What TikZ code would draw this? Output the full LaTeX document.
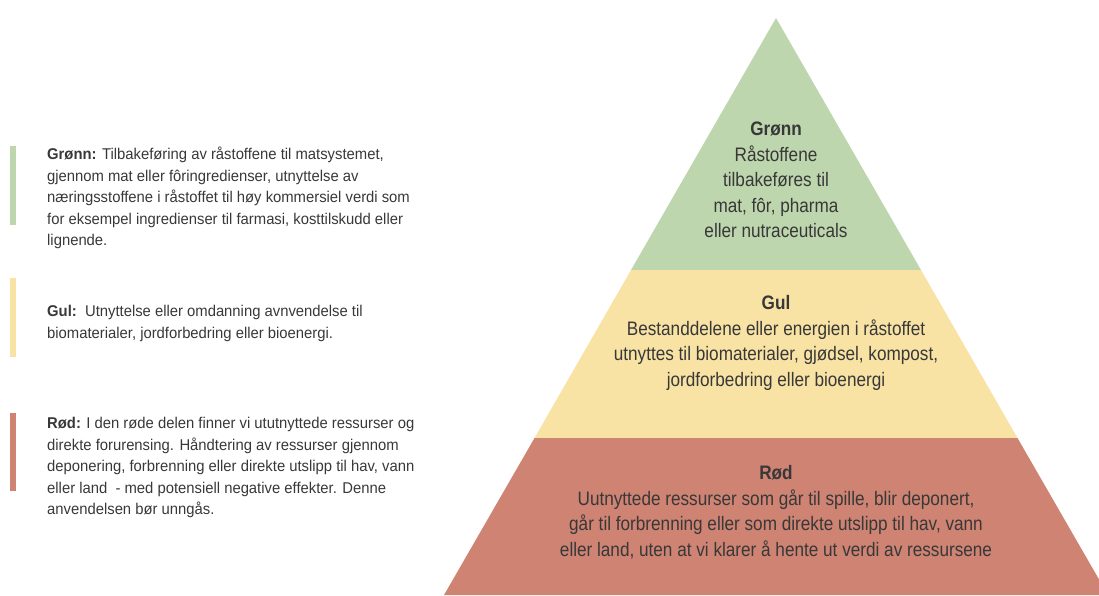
\documentclass[tikz,border=0pt]{standalone}
\usepackage{fontspec}
\setmainfont{Liberation Sans}
\newfontfamily\pyrfont[FakeStretch=0.88]{Liberation Sans}
\newfontfamily\legfont[FakeStretch=0.95]{Liberation Sans}
\definecolor{gfill}{HTML}{BDD6AD}
\definecolor{yfill}{HTML}{F8E3A4}
\definecolor{rfill}{HTML}{CE8373}
\definecolor{txt}{HTML}{383838}
\tikzset{
  lefttext/.style={anchor=north west, inner sep=0pt, align=left, text=txt,
    font=\legfont\fontsize{15.6}{21.5}\selectfont},
  pyrtext/.style={anchor=center, inner sep=0pt, align=center, text=txt,
    font=\pyrfont\fontsize{19.5}{25.5}\selectfont}
}
\begin{document}
\begin{tikzpicture}[x=1pt,y=-1pt]
\useasboundingbox (0,0) rectangle (1099,595);
\clip (0,0) rectangle (1099,595);
% pyramid layers
\fill[gfill] (776,18) -- (921,270) -- (631,270) -- cycle;
\fill[yfill] (631,270) -- (921,270) -- (1017.5,438) -- (534.5,438) -- cycle;
\fill[rfill] (534.5,438) -- (1017.5,438) -- (1108,595) -- (444,595) -- cycle;
% legend bars
\fill[gfill] (10,146) rectangle (16,225);
\fill[yfill] (10,278) rectangle (16,357);
\fill[rfill] (10,413) rectangle (16,491);
% legend texts
\node[lefttext] (gleg) at (47,147) {\textbf{Grønn:} Tilbakeføring av råstoffene til matsystemet,\\
gjennom mat eller fôringredienser, utnyttelse av\\
næringsstoffene i råstoffet til høy kommersiel verdi som\\
for eksempel ingredienser til farmasi, kosttilskudd eller\\
lignende.};
\node[lefttext] (yleg) at (47,305) {\textbf{Gul:}\ \ Utnyttelse eller omdanning avnvendelse til\\
biomaterialer, jordforbedring eller bioenergi.};
\node[lefttext] (rleg) at (47,417) {\textbf{Rød:} I den røde delen finner vi ututnyttede ressurser og\\
direkte forurensing. Håndtering av ressurser gjennom\\
deponering, forbrenning eller direkte utslipp til hav, vann\\
eller land\ \ - med potensiell negative effekter. Denne\\
anvendelsen bør unngås.};
% pyramid texts
\node[pyrtext] (gpyr) at (776,180) {\textbf{Grønn}\\Råstoffene\\tilbakeføres til\\mat, fôr, pharma\\eller nutraceuticals};
\node[pyrtext] (ypyr) at (776,343) {\textbf{Gul}\\Bestanddelene eller energien i råstoffet\\utnyttes til biomaterialer, gjødsel, kompost,\\jordforbedring eller bioenergi};
\node[pyrtext] (rpyr) at (776,512) {\textbf{Rød}\\Uutnyttede ressurser som går til spille, blir deponert,\\går til forbrenning eller som direkte utslipp til hav, vann\\eller land, uten at vi klarer å hente ut verdi av ressursene};
\end{tikzpicture}
\end{document}
